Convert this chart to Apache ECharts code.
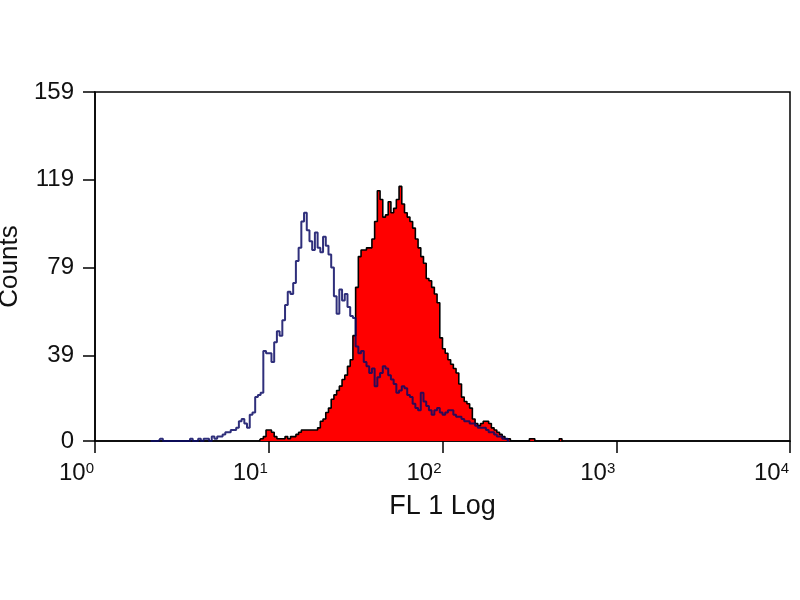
<!DOCTYPE html>
<html>
<head>
<meta charset="utf-8">
<script src="https://cdn.jsdelivr.net/npm/echarts@6/dist/echarts.min.js"></script>
<style>
html,body{margin:0;padding:0;background:#fff;}
#chart{width:800px;height:600px;}
</style>
</head>
<body>
<div id="chart"></div>
<script>
// Histogram channels: 64 channels per decade, 4 decades (10^0 .. 10^4)
const channelsPerDecade = 64;
const decadeTicks = [0, 1, 2, 3, 4];
const yTicks = [0, 39, 79, 119, 159];
const xAxisTitle = 'FL 1 Log';
const yAxisTitle = 'Counts';

// Isotype control (blue outline), first channel = blueStart
const blueStart = 20;
const blueCounts = [
  0,0,0,0,1,0,0,0,0,0,0,0,0,0,
  0,1,0,0,1,0,1,1,0,2,1,2,2,3,4,4,5,5,6,9,10,8,6,12,13,20,21,22,
  41,40,40,36,45,50,48,55,62,68,67,72,82,88,100,104,96,91,87,95,88,86,93,89,85,79,
  66,58,69,64,67,61,57,56,43,40,41,36,34,31,33,25,29,31,34,33,30,28,26,22,23,25,
  24,21,20,17,15,14,22,18,16,14,12,14,15,13,12,13,14,14,12,11,11,10,9,9,8,8,
  7,6,6,6,5,4,4,3,2,2,1,1,0
];

// Stained sample (red filled), first channel = redStart
const redStart = 60;
const redCounts = [
  0,1,2,5,5,4,2,1,1,1,2,1,2,2,3,4,5,5,5,5,5,5,6,9,10,13,15,19,21,23,
  25,28,30,34,37,48,70,84,87,87,88,88,92,100,114,110,102,103,109,104,106,110,116,108,104,102,100,97,92,88,
  84,81,74,73,70,67,63,47,42,40,37,35,33,31,26,20,18,17,15,10,8,7,8,9,9,8,6,5,4,3,
  2,1,1,0,0,0,0,0,0,0,1,1,0,0,0,0,0,0,0,0,0,1,0
];

function toPoints(start, counts) {
  return counts.map((c, k) => [(start + k + 0.5) / channelsPerDecade, c]);
}

const chart = echarts.init(document.getElementById('chart'), null, {renderer: 'canvas'});
const font = 'Liberation Sans, Arial, sans-serif';

chart.setOption({
  animation: false,
  backgroundColor: '#ffffff',
  grid: {
    left: 95, right: 10, top: 92, bottom: 159,
    containLabel: false,
    outerBoundsMode: 'none',
    show: true, borderColor: '#000', borderWidth: 1.5, backgroundColor: 'transparent'
  },
  xAxis: {
    type: 'value',
    min: decadeTicks[0], max: decadeTicks[decadeTicks.length - 1], interval: 1,
    name: xAxisTitle, nameLocation: 'middle', nameGap: 52,
    nameTextStyle: {fontFamily: font, fontSize: 27, color: '#111'},
    axisLine: {show: true, onZero: false, lineStyle: {color: '#000', width: 1.5}},
    axisTick: {show: true, inside: false, length: 12, lineStyle: {color: '#000', width: 1.5}},
    splitLine: {show: false},
    axisLabel: {
      margin: 20,
      padding: [0, 37, 0, 0],
      formatter: function (v) { return '{b|10}{s|' + v + '}'; },
      rich: {
        b: {fontFamily: font, fontSize: 24, lineHeight: 24, color: '#111'},
        s: {fontFamily: font, fontSize: 15, lineHeight: 15, color: '#111', verticalAlign: 'top'}
      }
    }
  },
  yAxis: {
    type: 'value',
    min: yTicks[0], max: yTicks[yTicks.length - 1],
    name: yAxisTitle, nameLocation: 'middle', nameGap: 66, nameRotate: 90,
    nameTextStyle: {fontFamily: font, fontSize: 26, color: '#111'},
    axisLine: {show: true, lineStyle: {color: '#000', width: 1.5}},
    axisTick: {show: true, inside: false, length: 12, customValues: yTicks, lineStyle: {color: '#000', width: 1.5}},
    splitLine: {show: false},
    axisLabel: {
      margin: 21, customValues: yTicks,
      fontFamily: font, fontSize: 24, color: '#111'
    }
  },
  series: [
    {
      name: 'stained',
      type: 'line',
      step: 'middle',
      symbol: 'none',
      z: 2,
      data: toPoints(redStart, redCounts),
      lineStyle: {color: '#000', width: 1.6},
      areaStyle: {color: '#ff0000', opacity: 1}
    },
    {
      name: 'control',
      type: 'line',
      step: 'middle',
      symbol: 'none',
      z: 3,
      data: toPoints(blueStart, blueCounts),
      lineStyle: {color: 'rgba(10,10,100,0.85)', width: 2}
    }
  ]
});
</script>
</body>
</html>
